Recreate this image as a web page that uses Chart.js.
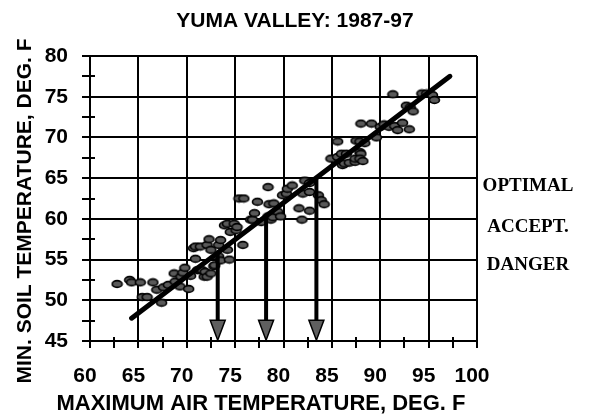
<!DOCTYPE html>
<html>
<head>
<meta charset="utf-8">
<script src="https://cdn.jsdelivr.net/npm/chart.js@4/dist/chart.umd.min.js"></script>
<style>
  html, body { margin: 0; padding: 0; background: #fff; }
  #wrap { width: 593px; height: 415px; }
</style>
</head>
<body>
<div id="wrap"><canvas id="chart" width="593" height="415"></canvas></div>
<script>
// ---- data ----
const airTemp = [
  62.8, 64.1, 64.3, 65.2, 65.4, 65.9, 66.5, 66.9, 67.4, 67.6,
  68.1, 68.7, 68.8, 69.3, 69.4, 69.6, 69.8, 70.2, 70.4, 70.9,
  70.7, 70.9, 71.4, 71.1, 71.4, 71.6, 71.8, 71.9, 72.1, 72.1,
  72.3, 72.5, 72.5, 72.8, 72.9, 73.3, 73.5, 73.3, 73.5, 73.9,
  74.2, 74.2, 74.4, 74.5, 74.9, 75.1, 75.2, 75.8, 75.4, 75.9,
  76.6, 76.8, 77.0, 77.3, 77.7, 78.4, 78.4, 78.5, 78.7, 78.9,
  79.0, 79.4, 79.7, 79.9, 80.3, 80.4, 80.9, 81.6, 81.9, 82.0,
  82.2, 82.7, 82.7, 82.7, 83.6, 83.9, 84.2, 84.9, 85.6, 85.6,
  86.0, 86.5, 86.1, 86.3, 86.8, 87.4, 87.4, 87.5, 87.9, 87.9,
  88.0, 87.9, 88.2, 88.4, 88.0, 89.1, 89.6, 90.0, 90.4, 90.9,
  91.5, 91.8, 92.3, 93.0, 91.3, 92.7, 93.1, 93.4, 94.3, 94.8,
  95.4, 95.6
];
const soilTemp = [
  52.0, 52.5, 52.2, 52.2, 50.4, 50.4, 52.2, 51.3, 49.7, 51.6,
  51.9, 53.3, 52.3, 51.7, 52.9, 53.4, 54.0, 51.4, 53.0, 55.1,
  56.4, 56.6, 56.6, 53.7, 53.7, 53.7, 52.9, 53.5, 52.9, 56.8,
  57.5, 56.2, 53.3, 54.2, 54.3, 55.4, 54.9, 56.8, 57.4, 59.2,
  59.4, 56.2, 55.0, 58.4, 59.4, 58.6, 59.0, 56.8, 62.5, 62.5,
  59.9, 59.9, 60.7, 62.1, 59.6, 63.9, 60.3, 61.8, 59.9, 60.2,
  61.9, 60.9, 60.3, 62.9, 63.1, 63.7, 64.1, 61.3, 59.9, 63.1,
  64.7, 64.4, 63.3, 61.0, 62.9, 62.3, 61.8, 67.4, 67.6, 69.5,
  68.0, 68.0, 66.6, 66.8, 66.9, 67.0, 67.4, 69.6, 69.5, 68.2,
  68.0, 67.4, 67.1, 69.3, 71.7, 71.7, 70.0, 71.3, 71.6, 71.3,
  71.4, 70.9, 71.8, 71.0, 75.3, 73.9, 73.7, 73.2, 75.4, 75.4,
  75.2, 74.6
];

// fitted line ends
const fitX = [64.3, 97.2];
const fitY = [47.8, 77.5];

// arrows dropped from the line
const arrowX = [73.2, 78.2, 83.4];
const arrowTipY = 45.1;

const xTickLabels = [60, 65, 70, 75, 80, 85, 90, 95, 100];
const yTickLabels = [45, 50, 55, 60, 65, 70, 75, 80];
const zoneLabels = ['OPTIMAL', 'ACCEPT.', 'DANGER'];

// ---- point marker: grey ellipse with black rim ----
function makeDot() {
    const c = document.createElement('canvas');
    c.width = 13;
    c.height = 10;
    const g = c.getContext('2d');
    g.beginPath();
    g.ellipse(6.5, 5, 5, 3.4, 0, 0, Math.PI * 2);
    g.fillStyle = '#595959';
    g.fill();
    g.lineWidth = 1.6;
    g.strokeStyle = '#000';
    g.stroke();
    return c;
}

const SANS = 'Liberation Sans, Arial, sans-serif';
const SERIF = 'Liberation Serif, Times New Roman, serif';

function lineAt(x) {
    return fitY[0] + (x - fitX[0]) * (fitY[1] - fitY[0]) / (fitX[1] - fitX[0]);
}

// extras: minor tick stubs, arrows, titles, zone labels
const extras = {
    id: 'extras',
    afterDatasetsDraw(chart) {
        const { ctx, scales: { x, y } } = chart;
        ctx.save();

        // arrows
        arrowX.forEach(v => {
            const px = x.getPixelForValue(v);
            const top = y.getPixelForValue(lineAt(v));
            const tip = y.getPixelForValue(arrowTipY);
            const headH = 20, headW = 15;
            ctx.beginPath();
            ctx.moveTo(px, top);
            ctx.lineTo(px, tip - headH + 1);
            ctx.lineWidth = 4;
            ctx.strokeStyle = '#000';
            ctx.stroke();
            ctx.beginPath();
            ctx.moveTo(px - headW / 2, tip - headH);
            ctx.lineTo(px + headW / 2, tip - headH);
            ctx.lineTo(px, tip);
            ctx.closePath();
            ctx.fillStyle = '#5f5f5f';
            ctx.fill();
            ctx.lineWidth = 1.5;
            ctx.stroke();
        });
        ctx.restore();
    },
    afterDraw(chart) {
        const { ctx, chartArea: a, scales: { x, y } } = chart;
        ctx.save();
        ctx.strokeStyle = '#000';
        ctx.lineWidth = 2;

        // minor ticks poke into the plot a little
        for (let v = 47.5; v < 80; v += 5) {
            const py = Math.round(y.getPixelForValue(v));
            ctx.beginPath();
            ctx.moveTo(a.left, py);
            ctx.lineTo(a.left + 5, py);
            ctx.stroke();
        }
        for (let v = 62.5; v < 100; v += 5) {
            const px = Math.round(x.getPixelForValue(v));
            ctx.beginPath();
            ctx.moveTo(px, a.bottom);
            ctx.lineTo(px, a.bottom - 4);
            ctx.stroke();
        }

        ctx.fillStyle = '#000';
        ctx.textAlign = 'center';
        ctx.textBaseline = 'middle';

        ctx.font = 'bold 21px ' + SANS;
        ctx.fillText('YUMA VALLEY: 1987-97', 295, 21);

        ctx.font = 'bold 22px ' + SANS;
        ctx.fillText('MAXIMUM AIR TEMPERATURE, DEG. F', 261, 404);

        ctx.font = 'bold 21px ' + SANS;
        ctx.save();
        ctx.translate(25, 211);
        ctx.rotate(-Math.PI / 2);
        ctx.fillText('MIN. SOIL TEMPERATURE, DEG. F', 0, 0);
        ctx.restore();

        ctx.font = 'bold 19px ' + SERIF;
        const zoneY = [186, 227, 265];
        zoneLabels.forEach((t, i) => ctx.fillText(t, 528, zoneY[i]));

        ctx.restore();
    }
};

const tickFont = { family: SANS, size: 21, weight: 'bold' };

new Chart(document.getElementById('chart'), {
    type: 'scatter',
    data: {
        datasets: [
            {
                label: 'fit',
                type: 'line',
                data: fitX.map((v, i) => ({ x: v, y: fitY[i] })),
                borderColor: '#000',
                borderWidth: 5,
                borderCapStyle: 'round',
                pointRadius: 0,
                fill: false
            },
            {
                label: 'days',
                data: airTemp.map((v, i) => ({ x: v, y: soilTemp[i] })),
                pointStyle: makeDot(),
                pointRadius: 5
            }
        ]
    },
    options: {
        responsive: false,
        animation: false,
        events: [],
        layout: { padding: { top: 56, right: 116, left: 0, bottom: 0 } },
        plugins: {
            legend: { display: false },
            tooltip: { enabled: false }
        },
        scales: {
            x: {
                type: 'linear',
                min: 60,
                max: 100,
                afterFit(s) { s.height = 74; },
                ticks: {
                    stepSize: 2.5,
                    autoSkip: false,
                    maxRotation: 0,
                    padding: 16,
                    labelOffset: -5,
                    color: '#000',
                    font: tickFont,
                    callback: v => xTickLabels.includes(v) ? String(v) : ''
                },
                grid: {
                    color: c => (c.tick && c.tick.value % 5 === 0) ? '#000' : 'rgba(0,0,0,0)',
                    lineWidth: 2,
                    tickColor: '#000',
                    tickLength: 7
                },
                border: { color: '#000', width: 2 }
            },
            y: {
                type: 'linear',
                min: 45,
                max: 80,
                afterFit(s) { s.width = 90; },
                ticks: {
                    stepSize: 2.5,
                    autoSkip: false,
                    padding: 14,
                    color: '#000',
                    font: tickFont,
                    callback: v => yTickLabels.includes(v) ? String(v) : ''
                },
                grid: {
                    color: c => (c.tick && c.tick.value % 5 === 0) ? '#000' : 'rgba(0,0,0,0)',
                    lineWidth: 2,
                    tickColor: '#000',
                    tickLength: 8
                },
                border: { color: '#000', width: 2 }
            }
        }
    },
    plugins: [extras]
});
</script>
</body>
</html>
